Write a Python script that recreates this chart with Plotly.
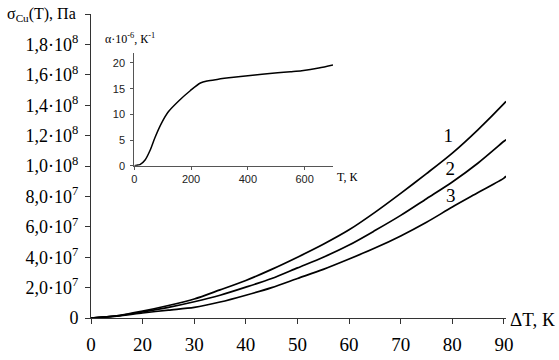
import plotly.graph_objects as go

# ---- main chart data (x in axis units, see tick labels) ----
dT = [0, 5, 10, 15, 20, 25, 30, 35, 40, 45, 50, 55, 60, 65, 70, 75, 80, 80.4]
sigma_1 = [0, 1.5e6, 4.5e6, 8.2e6, 1.25e7, 1.85e7, 2.47e7, 3.2e7, 4.0e7, 4.85e7,
           5.8e7, 6.95e7, 8.2e7, 9.5e7, 1.085e8, 1.24e8, 1.41e8, 1.425e8]
sigma_2 = [0, 1.4e6, 4.0e6, 7.0e6, 1.07e7, 1.5e7, 2.03e7, 2.6e7, 3.3e7, 4.0e7,
           4.8e7, 5.75e7, 6.75e7, 7.85e7, 8.95e7, 1.02e8, 1.163e8, 1.174e8]
sigma_3 = [0, 1.2e6, 3.3e6, 5.2e6, 7.0e6, 1.05e7, 1.5e7, 2.0e7, 2.6e7, 3.2e7,
           3.88e7, 4.6e7, 5.4e7, 6.3e7, 7.3e7, 8.25e7, 9.2e7, 9.33e7]
curve_names = ["1", "2", "3"]
label_x = [69.2, 69.6, 69.7]
label_y = [1.19e8, 9.74e7, 7.96e7]

x_tickvals = [0, 10, 20, 30, 40, 50, 60, 70, 80]
x_ticktext = ["0", "20", "30", "40", "50", "60", "70", "80", "90"]
y_tickvals = [0, 2e7, 4e7, 6e7, 8e7, 1e8, 1.2e8, 1.4e8, 1.6e8, 1.8e8, 2e8]
y_ticktext = ["0", "2,0·10<sup>7</sup>", "4,0·10<sup>7</sup>", "6,0·10<sup>7</sup>",
              "8,0·10<sup>7</sup>", "1,0·10<sup>8</sup>", "1,2·10<sup>8</sup>",
              "1,4·10<sup>8</sup>", "1,6·10<sup>8</sup>", "1,8·10<sup>8</sup>", ""]

# ---- inset data ----
T_inset = [0, 10, 20, 38, 55, 73, 96, 120, 160, 197, 233, 257, 292, 350, 400,
           450, 505, 550, 590, 650, 700]
alpha_inset = [0, 0.1, 0.2, 1.1, 2.9, 5.5, 8.3, 10.5, 12.8, 14.6, 16.1, 16.5,
               16.8, 17.2, 17.5, 17.8, 18.1, 18.3, 18.5, 19.0, 19.6]
inset_xticks = [0, 200, 400, 600]
inset_yticks = [0, 5, 10, 15, 20]

serif = "Liberation Serif"
fig = go.Figure()
for ys in (sigma_1, sigma_2, sigma_3):
    fig.add_trace(go.Scatter(x=dT, y=ys, mode="lines",
                             line=dict(color="black", width=1.7, shape="spline",
                                       smoothing=0.8),
                             showlegend=False, hoverinfo="skip"))
fig.add_trace(go.Scatter(x=label_x, y=label_y, text=curve_names, mode="text",
                         textfont=dict(family=serif, size=19, color="black"),
                         showlegend=False, hoverinfo="skip"))
fig.add_trace(go.Scatter(x=T_inset, y=alpha_inset, mode="lines",
                         line=dict(color="black", width=1.5, shape="spline",
                                   smoothing=0.8),
                         xaxis="x2", yaxis="y2", showlegend=False, hoverinfo="skip"))

fig.update_layout(
    width=559, height=360,
    margin=dict(l=91, r=53, t=14, b=42, autoexpand=False),
    paper_bgcolor="white", plot_bgcolor="white",
    xaxis=dict(range=[0, 80.4], tickvals=x_tickvals, ticktext=x_ticktext,
               showgrid=False, zeroline=False, showline=True, linecolor="#333",
               linewidth=1, ticks="outside", ticklen=5, tickcolor="#333",
               ticklabelstandoff=4,
               tickfont=dict(family=serif, size=19, color="black"),
               automargin=False),
    yaxis=dict(range=[0, 2e8], tickvals=y_tickvals, ticktext=y_ticktext,
               showgrid=False, zeroline=False, showline=True, linecolor="#333",
               linewidth=1, ticks="outside", ticklen=5, tickcolor="#333",
               ticklabelstandoff=3,
               tickfont=dict(family=serif, size=18, color="black"),
               automargin=False),
    xaxis2=dict(domain=[0.1043, 0.5831], anchor="y2", range=[0, 700],
                tickvals=inset_xticks, showgrid=False, zeroline=False,
                showline=True, linecolor="#555", linewidth=1, ticks="outside",
                ticklen=3, tickcolor="#555",
                tickfont=dict(family="Liberation Sans", size=11, color="#222"),
                automargin=False),
    yaxis2=dict(domain=[0.501, 0.8727], anchor="x2", range=[0, 22],
                tickvals=inset_yticks, showgrid=False, zeroline=False,
                showline=True, linecolor="#555", linewidth=1, ticks="outside",
                ticklen=3, tickcolor="#555", ticklabelstandoff=3,
                tickfont=dict(family="Liberation Sans", size=11, color="#222"),
                automargin=False),
    annotations=[
        dict(text="σ<sub>Cu</sub>(T), Па", xref="paper", yref="y", x=0, y=2e8,
             xanchor="right", yanchor="middle", xshift=-13, showarrow=False,
             font=dict(family=serif, size=16, color="black")),
        dict(text="ΔT, К", xref="paper", yref="y", x=1, y=0,
             xanchor="left", yanchor="middle", xshift=2, yshift=-1, showarrow=False,
             font=dict(family=serif, size=19, color="black")),
        dict(text="α·10<sup>-6</sup>, К<sup>-1</sup>", xref="paper", yref="paper",
             x=0.029, y=0.918, xanchor="left", yanchor="middle", showarrow=False,
             font=dict(family=serif, size=12, color="black")),
        dict(text="T, К", xref="paper", yref="paper", x=0.588, y=0.464,
             xanchor="left", yanchor="middle", showarrow=False,
             font=dict(family=serif, size=12, color="black")),
    ],
)
fig.write_html("out.html", config={"displayModeBar": False},
               post_script="document.body.style.margin='0';document.body.style.overflow='hidden';")
